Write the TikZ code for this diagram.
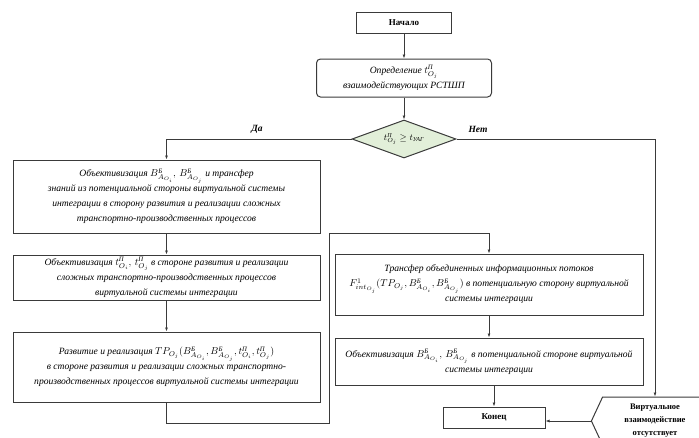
\documentclass[tikz,border=0pt]{standalone}
\usepackage{amsmath}
\usepackage{fontspec}
\setmainfont{Liberation Serif}
\usetikzlibrary{arrows.meta,shapes.geometric,shapes.symbols}
\definecolor{linegray}{HTML}{3A3A3A}
\definecolor{condgreen}{HTML}{E2EFD9}
\newcommand{\Bb}[1]{B^{\text{\itshape Б}}_{A_{O_{#1}}}}
\newcommand{\tp}[1]{t^{\text{\itshape П}}_{O_{#1}}}
\begin{document}
\begin{tikzpicture}[x=1pt,y=-1pt,
  box/.style={draw=linegray, line width=1pt, rectangle, align=center, inner sep=2pt,
    font=\fontsize{9.6}{15}\selectfont\itshape},
  term/.style={draw=linegray, line width=1pt, rectangle, minimum height=21, font=\fontsize{9}{10}\selectfont\bfseries},
  link/.style={draw=linegray, line width=0.8pt, -{Latex[length=4pt,width=3pt]}}]
\useasboundingbox (0,0) rectangle (699,437);

\node[term, minimum width=95] (start) at (404,23) {Начало};
\node[box, rounded corners=4pt, minimum width=175, minimum height=38] (opr) at (404,78)
  {Определение $\tp{j}$\\взаимодействующих РСТШП};
\node[draw=linegray, line width=1pt, fill=condgreen, diamond, aspect=2.7, minimum width=104,
  minimum height=38, inner sep=0pt, font=\fontsize{9}{10}\selectfont\itshape] (cond) at (404,139)
  {$\tp{j}\geq t_{\text{\itshape УАГ}}$};

\node[box, minimum width=307, minimum height=73] (b1) at (166.5,196.5)
  {Объективизация $\Bb{i},\,\Bb{j}$ и трансфер\\
   знаний из потенциальной стороны виртуальной системы\\
   интеграции в сторону развития и реализации сложных\\
   транспортно-производственных процессов};
\node[box, minimum width=307, minimum height=45] (b2) at (166.5,277.5)
  {Объективизация $\tp{i},\,\tp{j}$ в стороне развития и реализации\\
   сложных транспортно-производственных процессов\\
   виртуальной системы интеграции};
\node[box, minimum width=307, minimum height=70] (b3) at (166.5,367)
  {Развитие и реализация $TP_{O_j}(\Bb{i},\Bb{j},\tp{i},\tp{j})$\\
   в стороне развития и реализации сложных транспортно-\\
   производственных процессов виртуальной системы интеграции};
\node[box, minimum width=308, minimum height=61] (b4) at (489,284.5)
  {Трансфер объединенных информационных потоков\\
   $F^{1}_{int_{O_j}}(TP_{O_j},\Bb{i},\Bb{j})$ в потенциальную сторону виртуальной\\
   системы интеграции};
\node[box, minimum width=308, minimum height=47] (b5) at (489,361.5)
  {Объективизация $\Bb{i},\,\Bb{j}$ в потенциальной стороне виртуальной\\
   системы интеграции};
\node[term, minimum width=102] (end) at (494,417.5) {Конец};
\node[draw=linegray, line width=1pt, signal, signal to=west, signal pointer angle=130,
  minimum width=116, minimum height=48, inner sep=1pt, align=center,
  font=\fontsize{8.5}{13}\selectfont\bfseries] (none) at (655,421)
  {Виртуальное\\взаимодействие\\отсутствует};

\coordinate (c1) at (329,423);
\coordinate (c2) at (329,233);

\path[link] (start) -- (opr);
\path[link] (opr) -- (cond);
\path[link] (cond.west) -| (b1.north);
\path[link] (cond.east) -| (none.north);
\path[link] (b1) -- (b2);
\path[link] (b2) -- (b3);
\path[link] (b3.south) |- (c1) -- (c2) -| (b4.north);
\path[link] (b4) -- (b5);
\path[link] (end.north |- b5.south) -- (end.north);
\path[link] (none.west) -- (none.west -| end.east);

\node[font=\fontsize{9.5}{10}\selectfont\bfseries\itshape] (yes) at (257,129) {Да};
\node[font=\fontsize{9.5}{10}\selectfont\bfseries\itshape] (no) at (478,129) {Нет};
\end{tikzpicture}
\end{document}
